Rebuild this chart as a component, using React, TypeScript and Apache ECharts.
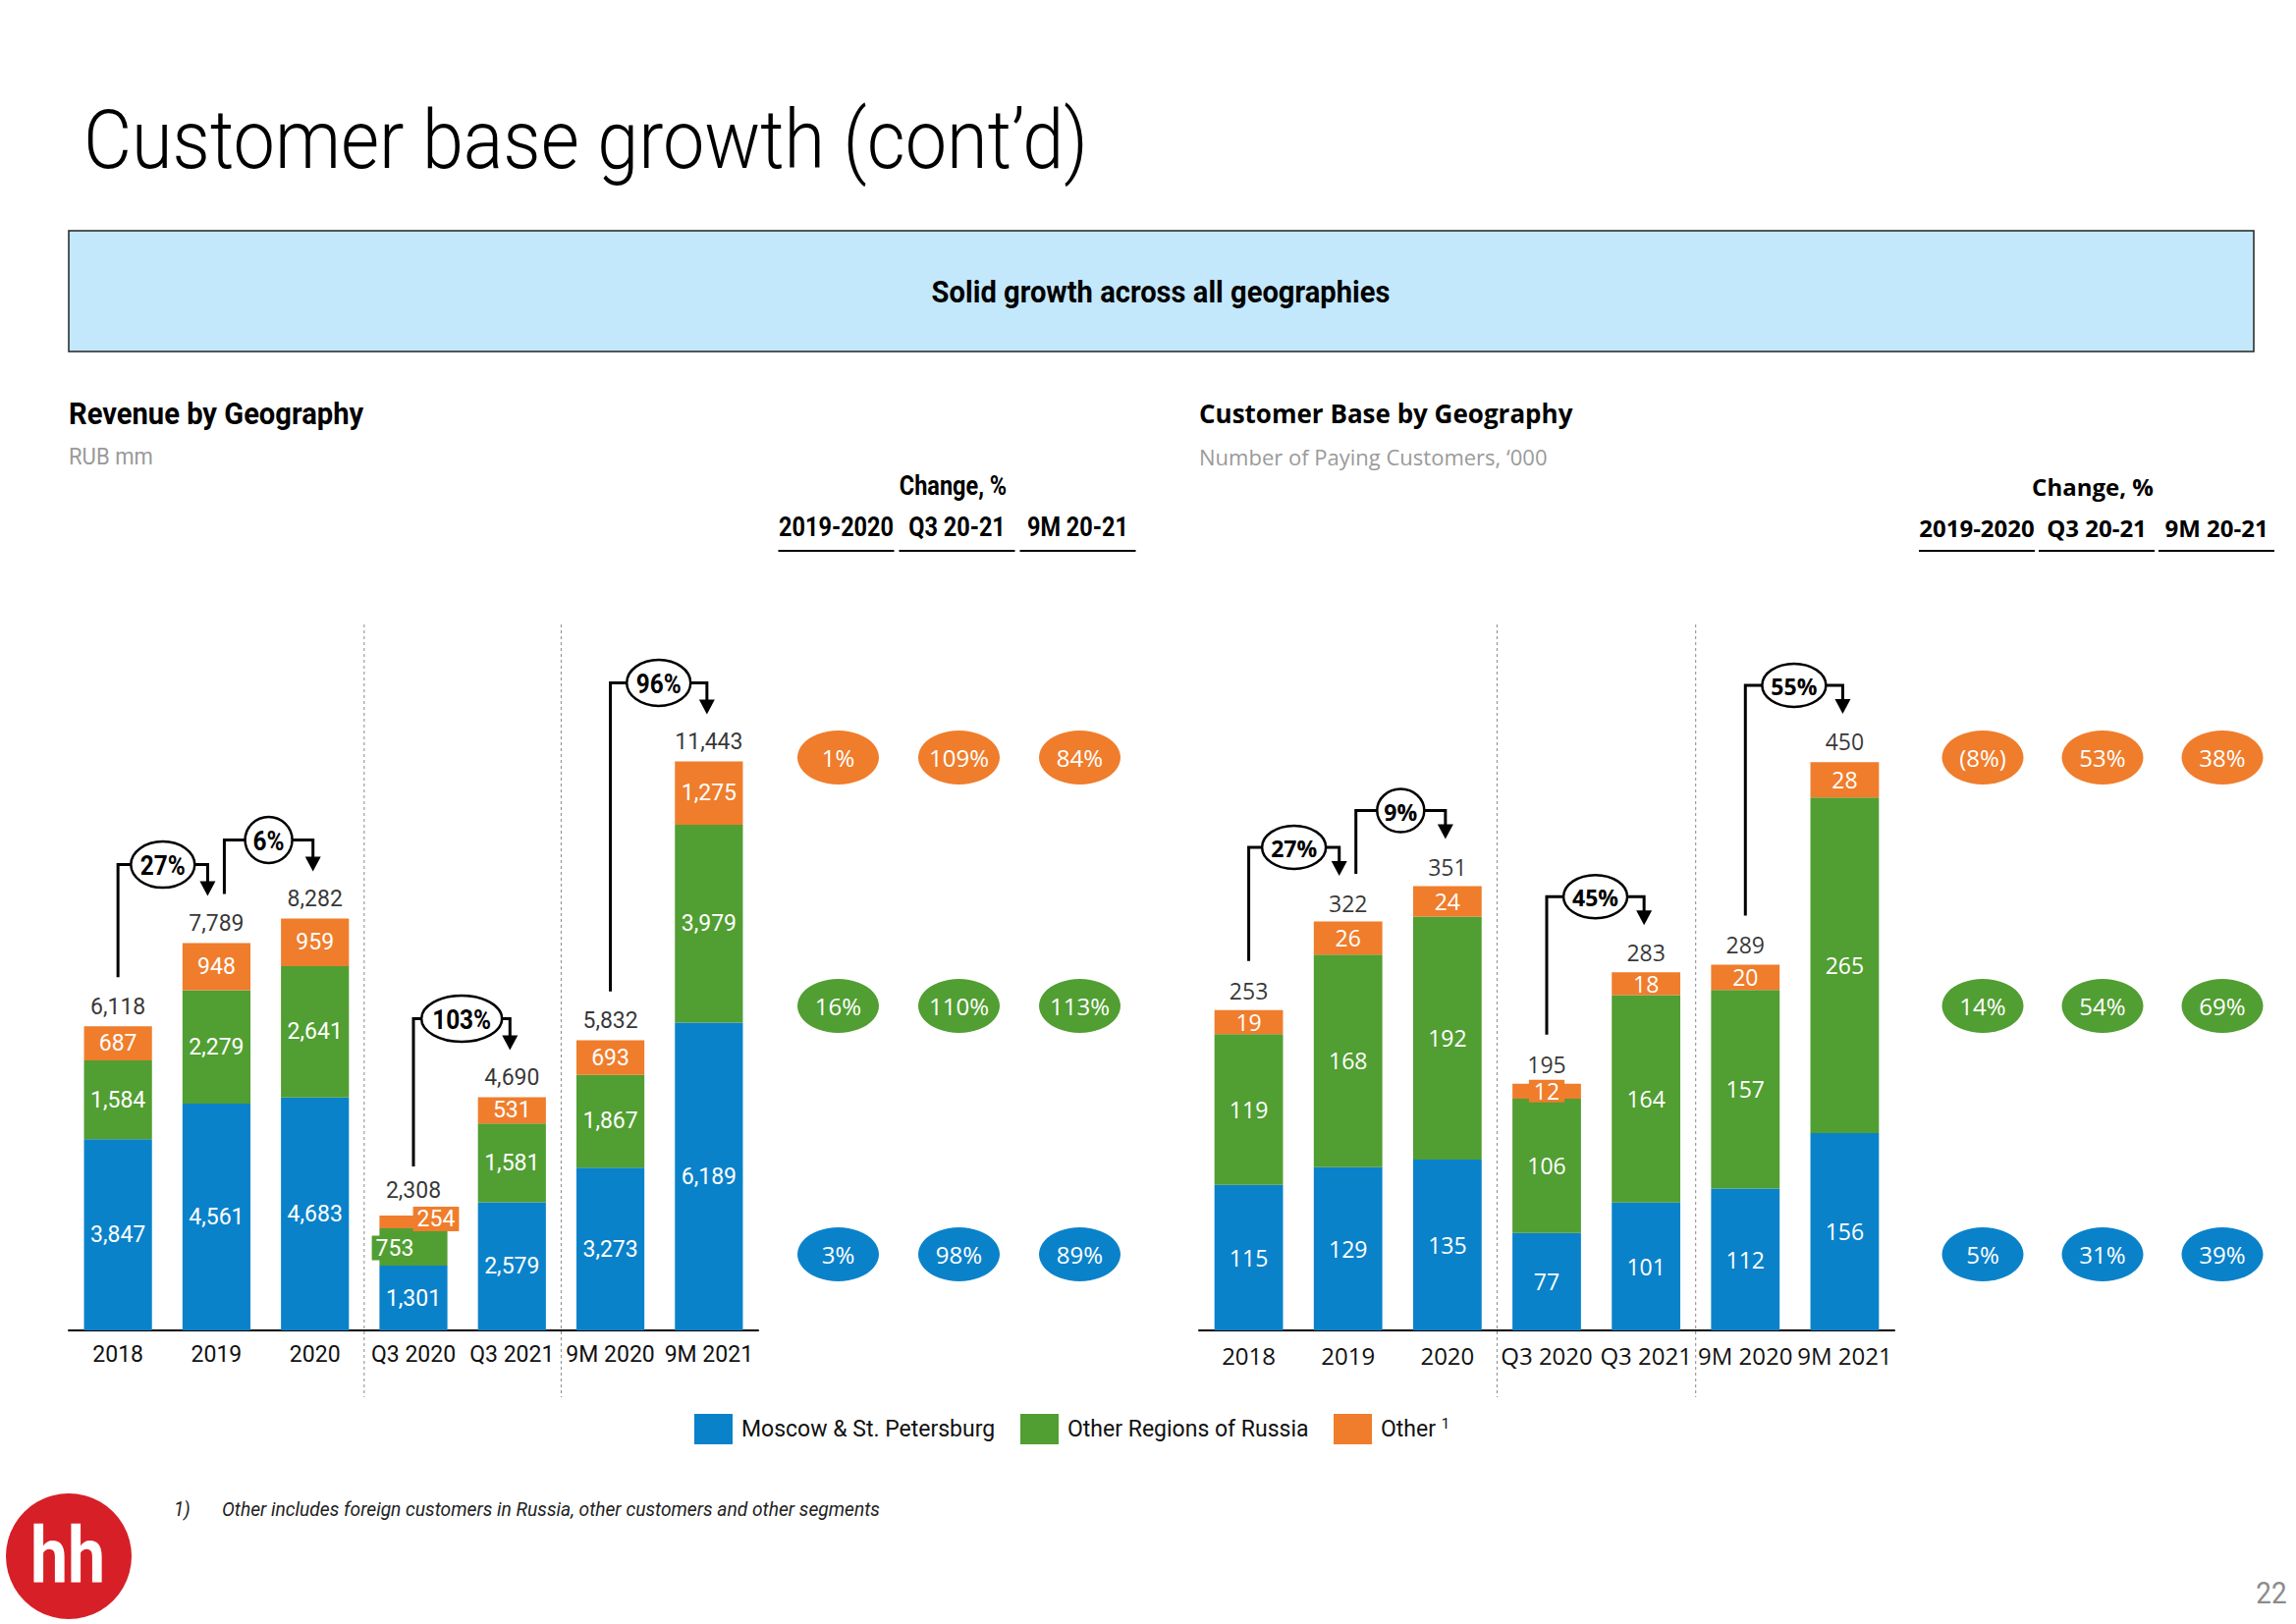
import React, { useEffect, useRef } from 'react';
import * as echarts from 'echarts';

// ---------- DATA ----------
const categories = ['2018', '2019', '2020', 'Q3 2020', 'Q3 2021', '9M 2020', '9M 2021'];

const revMoscow = [3847, 4561, 4683, 1301, 2579, 3273, 6189];
const revRegions = [1584, 2279, 2641, 753, 1581, 1867, 3979];
const revOther = [687, 948, 959, 254, 531, 693, 1275];
const revTotal = [6118, 7789, 8282, 2308, 4690, 5832, 11443];
const revGrowth = [
  { from: 0, to: 1, label: '27%' },
  { from: 1, to: 2, label: '6%' },
  { from: 3, to: 4, label: '103%' },
  { from: 5, to: 6, label: '96%' },
];

const custMoscow = [115, 129, 135, 77, 101, 112, 156];
const custRegions = [119, 168, 192, 106, 164, 157, 265];
const custOther = [19, 26, 24, 12, 18, 20, 28];
const custTotal = [253, 322, 351, 195, 283, 289, 450];
const custGrowth = [
  { from: 0, to: 1, label: '27%' },
  { from: 1, to: 2, label: '9%' },
  { from: 3, to: 4, label: '45%' },
  { from: 5, to: 6, label: '55%' },
];

const changeHeaders = ['2019-2020', 'Q3 20-21', '9M 20-21'];
const changeRows = ['Moscow & St. Petersburg', 'Other Regions of Russia', 'Other'];
const revChangeMoscow = ['3%', '98%', '89%'];
const revChangeRegions = ['16%', '110%', '113%'];
const revChangeOther = ['1%', '109%', '84%'];
const custChangeMoscow = ['5%', '31%', '39%'];
const custChangeRegions = ['14%', '54%', '69%'];
const custChangeOther = ['(8%)', '53%', '38%'];

// ---------- STYLE ----------
const BLUE = '#0A82CA';
const GREEN = '#519E32';
const ORANGE = '#EF7D2C';
const NARROW = 'Roboto, "Liberation Sans", sans-serif';
const WIDE = '"Open Sans", "Noto Sans", sans-serif';
const SQ = 0.87; // horizontal squeeze for condensed-looking texts

const fmt = (v: number) => Number(v).toLocaleString('en-US');

function barSeries(name: string, data: any[], color: string, axis: number, stack: string, font: string, size: number) {
  return {
    type: 'bar',
    name,
    xAxisIndex: axis,
    yAxisIndex: axis,
    stack,
    barWidth: '69%',
    data,
    itemStyle: { color },
    label: {
      show: true,
      position: 'inside',
      color: '#fff',
      fontFamily: font,
      fontSize: size,
      formatter: (p: any) => fmt(p.value),
    },
  };
}

function totalSeries(totals: number[], axis: number, font: string, size: number, raised: number[] = []) {
  return {
    type: 'scatter',
    xAxisIndex: axis,
    yAxisIndex: axis,
    symbol: 'rect',
    symbolSize: 1,
    itemStyle: { color: 'rgba(0,0,0,0)' },
    data: totals.map((v, i) => (raised.includes(i) ? { value: [i, v], label: { distance: 14 } } : [i, v])),
    label: {
      show: true,
      position: 'top',
      distance: 8,
      color: '#000',
      fontFamily: font,
      fontSize: size,
      formatter: (p: any) => fmt(p.value[1]),
    },
    z: 5,
  };
}

function changeSeries(values: string[], row: number, color: string, axis: number) {
  return {
    type: 'scatter',
    xAxisIndex: axis,
    yAxisIndex: axis,
    symbol: 'circle',
    symbolSize: [83, 55],
    itemStyle: { color, opacity: 1 },
    data: values.map((v, c) => [c, row, v]),
    label: {
      show: true,
      position: 'inside',
      color: '#fff',
      fontFamily: WIDE,
      fontSize: 24,
      formatter: (p: any) => p.value[2],
    },
  };
}

const special = (arr: number[], idx: number, label: any) =>
  arr.map((v, i) => (i === idx ? { value: v, label } : v));

const legendNames = ['Moscow & St. Petersburg', 'Other Regions of Russia', 'Other'];
const legendLefts = [707, 1039, 1358];

const option: any = {
  animation: false,
  backgroundColor: '#fff',
  grid: [
    { left: 70, top: 646, width: 702, height: 709 },
    { left: 1221, top: 646, width: 708, height: 709 },
    { left: 792, top: 645, width: 369, height: 759 },
    { left: 1958, top: 645, width: 366, height: 759 },
  ],
  xAxis: [
    {
      type: 'category', gridIndex: 0, data: categories,
      axisLine: { lineStyle: { color: '#000', width: 2 } }, axisTick: { show: false },
      axisLabel: { fontFamily: NARROW, fontSize: 23, color: '#111', margin: 13, interval: 0 },
    },
    {
      type: 'category', gridIndex: 1, data: categories,
      axisLine: { lineStyle: { color: '#000', width: 2 } }, axisTick: { show: false },
      axisLabel: { fontFamily: WIDE, fontSize: 24, color: '#111', margin: 13, interval: 0 },
    },
    { type: 'category', gridIndex: 2, data: changeHeaders, show: false },
    { type: 'category', gridIndex: 3, data: changeHeaders, show: false },
  ],
  yAxis: [
    { type: 'value', gridIndex: 0, min: 0, max: 14000, show: false },
    { type: 'value', gridIndex: 1, min: 0, max: 550, show: false },
    { type: 'category', gridIndex: 2, data: changeRows, show: false },
    { type: 'category', gridIndex: 3, data: changeRows, show: false },
  ],
  legend: legendNames.map((n, i) => ({
    left: legendLefts[i],
    top: 1440,
    padding: 0,
    itemWidth: 39,
    itemHeight: 31,
    icon: 'rect',
    selectedMode: false,
    data: [n],
    formatter: (name: string) => (name === 'Other' ? 'Other {sup|1}' : name),
    textStyle: {
      fontFamily: NARROW,
      fontSize: 23,
      color: '#111',
      padding: [0, 0, 0, 4],
      rich: { sup: { fontFamily: NARROW, fontSize: 15, color: '#111', verticalAlign: 'top', padding: [0, 0, 12, 0] } },
    },
  })),
  series: [
    barSeries('Moscow & St. Petersburg', revMoscow, BLUE, 0, 'rev', NARROW, 23),
    barSeries('Other Regions of Russia',
      special(revRegions, 3, { backgroundColor: GREEN, offset: [-19, 1], padding: [1, 4] }), GREEN, 0, 'rev', NARROW, 23),
    barSeries('Other',
      special(revOther, 3, { backgroundColor: ORANGE, offset: [23, -3], padding: [1, 4] }), ORANGE, 0, 'rev', NARROW, 23),
    totalSeries(revTotal, 0, NARROW, 23, [3]),
    barSeries('Moscow & St. Petersburg', custMoscow, BLUE, 1, 'cust', WIDE, 23),
    barSeries('Other Regions of Russia', custRegions, GREEN, 1, 'cust', WIDE, 23),
    barSeries('Other',
      special(custOther, 3, { backgroundColor: ORANGE, padding: [0, 5] }), ORANGE, 1, 'cust', WIDE, 23),
    totalSeries(custTotal, 1, WIDE, 23),
    changeSeries(revChangeMoscow, 0, BLUE, 2),
    changeSeries(revChangeRegions, 1, GREEN, 2),
    changeSeries(revChangeOther, 2, ORANGE, 2),
    changeSeries(custChangeMoscow, 0, BLUE, 3),
    changeSeries(custChangeRegions, 1, GREEN, 3),
    changeSeries(custChangeOther, 2, ORANGE, 3),
  ],
};

function txt(x: number, y: number, text: string, fontSize: number, fontFamily: string, extra: any = {}, squeeze = 1) {
  return {
    type: 'text', x, y, z: 100, scaleX: squeeze,
    style: { text, fontSize, fontFamily, fill: '#000', align: 'left', verticalAlign: 'middle', ...extra },
  };
}

function growthGraphics(chart: any, gridIndex: number, totals: number[], growth: any[], font: string, fontSize: number, levelOff: number, ry: number, squeeze: number) {
  const els: any[] = [];
  growth.forEach((g) => {
    const [x1, y1] = chart.convertToPixel({ gridIndex }, [g.from, totals[g.from]]);
    const [x2, y2] = chart.convertToPixel({ gridIndex }, [g.to, totals[g.to]]);
    const fromIsTarget = growth.some((h) => h.to === g.from);
    const toIsSource = growth.some((h) => h.from === g.to);
    const sx = x1 + (fromIsTarget ? 8 : 0);
    const ax = x2 - (toIsSource ? 9 : 2);
    const level = Math.min(y1, y2) - levelOff;
    const tip = y2 - 48;
    els.push({
      type: 'polyline', z: 100,
      shape: { points: [[sx, y1 - 50], [sx, level], [ax, level], [ax, tip - 14]] },
      style: { stroke: '#000', lineWidth: 3, fill: null },
    });
    els.push({
      type: 'polygon', z: 100,
      shape: { points: [[ax - 8, tip - 15], [ax + 8, tip - 15], [ax, tip]] },
      style: { fill: '#000' },
    });
    const w = 17 * g.label.length + 14;
    els.push({
      type: 'ellipse', z: 101,
      shape: { cx: (sx + ax) / 2, cy: level, rx: w / 2, ry },
      style: { fill: '#fff', stroke: '#000', lineWidth: 2.5 },
    });
    els.push({
      type: 'text', z: 102, x: (sx + ax) / 2, y: level + 1, scaleX: squeeze,
      style: { text: g.label, fontFamily: font, fontSize, fontWeight: 'bold', fill: '#000', align: 'center', verticalAlign: 'middle' },
    });
  });
  return els;
}

function separators(chart: any, gridIndex: number, after: number[]) {
  return after.map((i) => {
    const xa = chart.convertToPixel({ gridIndex }, [i, 0])[0];
    const xb = chart.convertToPixel({ gridIndex }, [i + 1, 0])[0];
    const x = (xa + xb) / 2;
    return {
      type: 'line', z: 1,
      shape: { x1: x, y1: 636, x2: x, y2: 1423 },
      style: { stroke: '#8a8a8a', lineWidth: 1, lineDash: [3, 3] },
    };
  });
}

function headers(chart: any, gridIndex: number, font: string, fontSize: number, shift: number, squeeze: number) {
  const els: any[] = [];
  const xs = changeHeaders.map((_, c) => chart.convertToPixel({ gridIndex }, [c, 0])[0] + shift);
  changeHeaders.forEach((h, c) => {
    els.push(txt(xs[c], 537, h, fontSize, font, { fontWeight: 'bold', align: 'center' }, squeeze));
    els.push({
      type: 'line', z: 100,
      shape: { x1: xs[c] - 59, y1: 561, x2: xs[c] + 59, y2: 561 },
      style: { stroke: '#000', lineWidth: 2 },
    });
  });
  els.push(txt(xs[1] - 4, 495, 'Change, %', fontSize, font, { fontWeight: 'bold', align: 'center' }, squeeze));
  return els;
}

function buildGraphics(chart: any) {
  const els: any[] = [];
  els.push(txt(85, 143, 'Customer base growth (cont’d)', 84, NARROW, { fontWeight: 300 }, 0.9));
  els.push({
    type: 'rect', z: 90,
    shape: { x: 70, y: 235, width: 2225, height: 123 },
    style: { fill: '#C4E8FB', stroke: '#222', lineWidth: 1.5 },
  });
  els.push(txt(1182, 297, 'Solid growth across all geographies', 31, NARROW, { fontWeight: 'bold', align: 'center' }, 0.94));
  els.push(txt(70, 421, 'Revenue by Geography', 31, NARROW, { fontWeight: 'bold' }, 0.94));
  els.push(txt(70, 465, 'RUB mm', 24, NARROW, { fill: '#9a9a9a' }, 0.92));
  els.push(txt(1221, 421, 'Customer Base by Geography', 26, WIDE, { fontWeight: 'bold' }));
  els.push(txt(1221, 465, 'Number of Paying Customers, ‘000', 22, WIDE, { fill: '#9a9a9a' }));
  els.push(...headers(chart, 2, NARROW, 27, -2, SQ));
  els.push(...headers(chart, 3, WIDE, 24, -6, 1));
  els.push(...separators(chart, 0, [2, 4]));
  els.push(...separators(chart, 1, [2, 4]));
  els.push(...growthGraphics(chart, 0, revTotal, revGrowth, NARROW, 28, 80, 23.5, SQ));
  els.push(...growthGraphics(chart, 1, custTotal, custGrowth, WIDE, 23, 77, 22, 1));
  // footnote
  els.push(txt(177, 1537, '1)', 20, NARROW, { fontStyle: 'italic', fill: '#222' }, 0.95));
  els.push(txt(226, 1537, 'Other includes foreign customers in Russia, other customers and other segments', 20, NARROW, { fontStyle: 'italic', fill: '#222' }, 0.96));
  // logo
  els.push({ type: 'circle', z: 100, shape: { cx: 70, cy: 1585, r: 64 }, style: { fill: '#D71F27' } });
  els.push({
    type: 'text', z: 101, x: 69, y: 1585, scaleX: 0.85,
    style: { text: 'hh', fontFamily: NARROW, fontSize: 80, fontWeight: 'bold', fill: '#fff', align: 'center', verticalAlign: 'middle' },
  });
  // page number
  els.push(txt(2313, 1622, '22', 32, NARROW, { fill: '#8c8c8c', align: 'center' }, SQ));
  return els;
}

export default function App() {
  const ref = useRef<HTMLDivElement>(null);
  useEffect(() => {
    document.body.style.margin = '0';
    const chart = echarts.init(ref.current as HTMLDivElement, null, { renderer: 'svg', width: 2338, height: 1654 });
    chart.setOption(option);
    chart.setOption({ graphic: buildGraphics(chart) });
    return () => chart.dispose();
  }, []);
  return (
    <div
      ref={ref}
      style={{ position: 'absolute', left: 0, top: 0, width: 2338, height: 1654, background: '#fff' }}
    />
  );
}
